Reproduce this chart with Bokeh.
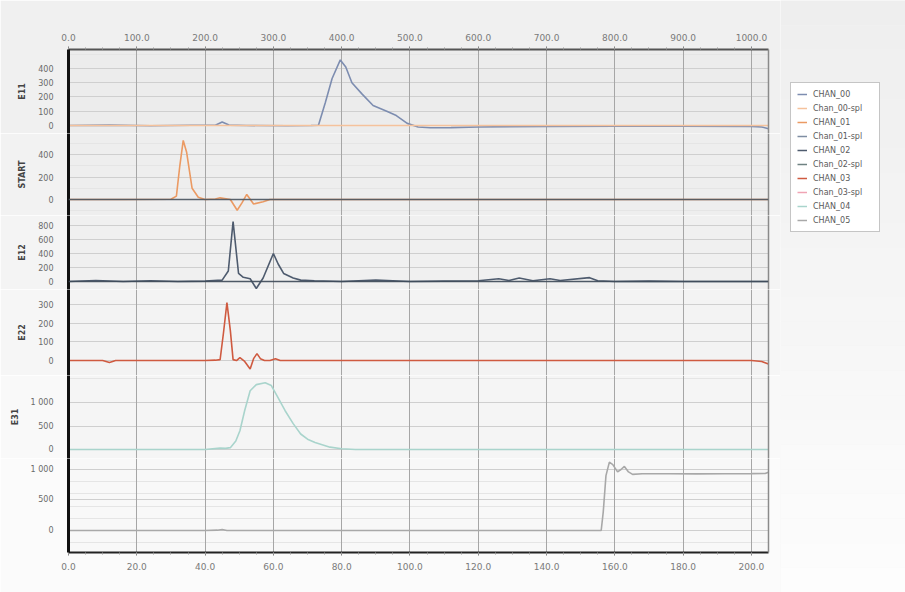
from bokeh.plotting import figure
from bokeh.layouts import column, row
from bokeh.models import (Range1d, LinearAxis, FixedTicker, Grid, Span, Legend,
                          LegendItem, PrintfTickFormatter)
from bokeh.embed import file_html
from bokeh.resources import INLINE

# ---- axes --------------------------------------------------------------
top_ticks = [0, 100, 200, 300, 400, 500, 600, 700, 800, 900, 1000]
bottom_ticks = [0, 20, 40, 60, 80, 100, 120, 140, 160, 180, 200]

# ---- channel data (x in the upper axis units) --------------------------
ch00_x = [0, 60, 120, 180, 215, 225, 235, 260, 320, 355, 366, 376, 386, 398, 406,
          415, 430, 446, 466, 480, 496, 512, 530, 560, 600, 700, 800, 900, 1000, 1015, 1025]
ch00_y = [0, 3, -2, 2, 2, 25, 3, 0, -2, 0, 2, 160, 330, 460, 410,
          300, 220, 140, 100, 70, 15, -10, -16, -15, -10, -6, -5, -5, -6, -10, -22]

ch00spl_x = [0, 200, 400, 600, 800, 1000, 1025]
ch00spl_y = [0, 0, 0, 0, 0, 0, 0]

ch01_x = [0, 80, 150, 158, 163, 168, 173, 181, 190, 200, 215, 222, 237, 247, 254,
          261, 271, 285, 295, 310, 400, 500, 600, 700, 800, 900, 1000, 1025]
ch01_y = [0, 0, 2, 30, 300, 525, 420, 100, 20, 0, 5, 15, 0, -95, -30,
          45, -40, -20, 0, 0, 0, 0, 0, 0, 0, 0, 0, 0]

ch02_x = [0, 40, 80, 120, 160, 200, 225, 234, 241, 249, 256, 266, 275, 285, 300,
          307, 315, 329, 340, 360, 400, 450, 500, 550, 600, 630, 645, 660, 680,
          705, 720, 763, 775, 800, 850, 900, 1000, 1025]
ch02_y = [0, 15, 0, 10, 0, 5, 20, 150, 855, 115, 60, 40, -100, 50, 400,
          250, 115, 50, 20, 10, 0, 20, 0, 5, 10, 40, 15, 50, 10,
          40, 15, 55, 10, 0, 5, 0, 0, 0]

ch03_x = [0, 50, 60, 69, 100, 150, 200, 215, 222, 227, 232, 237, 241, 246, 251,
          258, 266, 271, 276, 281, 287, 295, 303, 310, 350, 400, 500, 600, 700,
          800, 900, 1000, 1015, 1025]
ch03_y = [0, 0, -10, 0, 0, 0, 0, 2, 5, 150, 310, 160, 5, 0, 15,
          -5, -45, 10, 37, 10, 0, 0, 10, 0, 0, 0, 0, 0, 0,
          0, 0, 0, -5, -18]

ch04_x = [0, 100, 200, 222, 230, 237, 245, 251, 258, 266, 275, 288, 297, 305, 317,
          329, 340, 350, 361, 383, 400, 420, 500, 600, 700, 800, 900, 1000, 1025]
ch04_y = [0, 0, 0, 30, 25, 40, 180, 400, 830, 1250, 1380, 1420, 1360, 1150, 830,
          550, 330, 220, 150, 50, 15, 0, 0, 0, 0, 0, 0, 0, 0]

ch05_x = [0, 100, 200, 218, 225, 232, 300, 400, 500, 600, 700, 760, 780, 783, 787,
          792, 797, 804, 809, 814, 820, 826, 840, 880, 920, 960, 1000, 1020, 1025]
ch05_y = [0, 0, 0, 5, 15, 0, 0, 0, 0, 0, 0, 0, 0, 300, 900,
          1120, 1080, 960, 1000, 1050, 960, 920, 930, 930, 928, 930, 932, 935, 955]

legend_names = ["CHAN_00", "Chan_00-spl", "CHAN_01", "Chan_01-spl", "CHAN_02",
                "Chan_02-spl", "CHAN_03", "Chan_03-spl", "CHAN_04", "CHAN_05"]
legend_colors = ["#7d8db0", "#f5c29c", "#eb9a63", "#7f8ea3", "#4e5b6e",
                 "#6f8282", "#cf5a40", "#f0a4b4", "#a9d4cc", "#a8a8a8"]
color_of = dict(zip(legend_names, legend_colors))

FONT = "DejaVu Sans"
x_range = Range1d(0, 1025)

panels = [
    dict(label="E11", ylim=(-56, 533), ticks=[0, 100, 200, 300, 400], h=84,
         series=[("CHAN_00", ch00_x, ch00_y), ("Chan_00-spl", ch00spl_x, ch00spl_y)], zero=None),
    dict(label="START", ylim=(-142, 587), ticks=[0, 200, 400], h=82,
         series=[("CHAN_01", ch01_x, ch01_y)], zero="#4a5560"),
    dict(label="E12", ylim=(-114, 943), ticks=[0, 200, 400, 600, 800], h=74,
         series=[("CHAN_02", ch02_x, ch02_y)], zero="#3f4b5a"),
    dict(label="E22", ylim=(-80, 380), ticks=[0, 100, 200, 300], h=86,
         series=[("CHAN_03", ch03_x, ch03_y)], zero=None),
    dict(label="E31", ylim=(-191, 1574), ticks=[0, 500, 1000], h=83,
         series=[("CHAN_04", ch04_x, ch04_y)], zero=None),
    dict(label="", ylim=(-361, 1180), ticks=[0, 500, 1000], h=94,
         series=[("CHAN_05", ch05_x, ch05_y)], zero=None),
]


def shade(frac, lo, hi):
    v = int(round(lo + (hi - lo) * frac))
    return "#%02x%02x%02x" % (v, v, v)


figs = []
y_cursor = 0
for i, pan in enumerate(panels):
    first = i == 0
    last = i == len(panels) - 1
    top_b = 49 if first else 0
    bot_b = 40 if last else 0
    mid = (y_cursor + top_b + pan["h"] / 2) / 592.0
    y_cursor += top_b + pan["h"] + bot_b

    p = figure(x_range=x_range, y_range=Range1d(*pan["ylim"]),
               frame_width=700, frame_height=pan["h"],
               min_border_left=68, min_border_right=12,
               min_border_top=top_b, min_border_bottom=bot_b,
               x_axis_location=None, y_axis_location=None,
               toolbar_location=None, output_backend="svg",
               background_fill_color=shade(mid, 233, 250),
               border_fill_color=shade(mid, 238, 253),
               outline_line_color=None)

    yax = LinearAxis(ticker=FixedTicker(ticks=pan["ticks"]),
                     major_label_overrides={1000: "1 000"},
                     axis_label=pan["label"] or None,
                     axis_line_color="#111111", axis_line_width=3,
                     major_tick_line_color=None, minor_tick_line_color=None,
                     major_label_text_font=FONT, major_label_text_font_size="8px",
                     major_label_text_color="#6a6a6a", major_label_standoff=9,
                     axis_label_text_font=FONT, axis_label_text_font_size="8px",
                     axis_label_text_font_style="bold", axis_label_text_color="#444444",
                     axis_label_standoff=8)
    p.add_layout(yax, "left")

    rax = LinearAxis(ticker=FixedTicker(ticks=[]), axis_line_color="#8a8a8a",
                     axis_line_width=1.5, major_tick_line_color=None,
                     minor_tick_line_color=None, major_label_text_font_size="0px",
                     major_label_standoff=0)
    p.add_layout(rax, "right")

    p.add_layout(Grid(dimension=1, ticker=FixedTicker(ticks=pan["ticks"]),
                      grid_line_color="#cfcfcf", grid_line_width=1))
    p.add_layout(Grid(dimension=0, ticker=FixedTicker(ticks=top_ticks),
                      grid_line_color="#a6a6a6", grid_line_width=1))

    for name, xs, ys in pan["series"]:
        p.line(xs, ys, line_color=color_of[name], line_width=1.6)

    if pan["zero"]:
        p.add_layout(Span(location=0, dimension="width", line_color=pan["zero"],
                          line_width=1.5, line_alpha=0.9))

    if first:
        tax = LinearAxis(ticker=FixedTicker(ticks=top_ticks, minor_ticks=list(range(0, 1025, 25))),
                         formatter=PrintfTickFormatter(format="%.1f"),
                         axis_line_color="#555555", axis_line_width=2,
                         major_tick_line_color="#777777", major_tick_in=0, major_tick_out=3,
                         minor_tick_line_color="#999999", minor_tick_in=0, minor_tick_out=2,
                         major_label_text_font=FONT, major_label_text_font_size="9px",
                         major_label_text_color="#7a7a7a", major_label_standoff=6)
        p.add_layout(tax, "above")
    if last:
        p.extra_x_ranges = {"lower": Range1d(0, 205)}
        bax = LinearAxis(x_range_name="lower",
                         ticker=FixedTicker(ticks=bottom_ticks, minor_ticks=list(range(0, 205, 5))),
                         formatter=PrintfTickFormatter(format="%.1f"),
                         axis_line_color="#222222", axis_line_width=2,
                         major_tick_line_color="#777777", major_tick_in=0, major_tick_out=3,
                         minor_tick_line_color="#999999", minor_tick_in=0, minor_tick_out=2,
                         major_label_text_font=FONT, major_label_text_font_size="9px",
                         major_label_text_color="#7a7a7a", major_label_standoff=7)
        p.add_layout(bax, "below")
    figs.append(p)

# ---- legend panel -------------------------------------------------------
lf = figure(width=125, height=592, x_range=Range1d(0, 1), y_range=Range1d(0, 592),
            min_border=0, x_axis_location=None, y_axis_location=None,
            toolbar_location=None, output_backend="svg", outline_line_color=None,
            background_fill_color="#f3f3f3", border_fill_color="#f3f3f3")
lf.grid.visible = False

# vertical fade of the page background behind the legend
n_steps = 24
step = 592.0 / n_steps
band_bottom = [592 - (k + 1) * step for k in range(n_steps)]
band_top = [592 - k * step for k in range(n_steps)]
band_color = [shade((k + 0.5) / n_steps, 238, 253) for k in range(n_steps)]
lf.quad(left=0, right=1, bottom=band_bottom, top=band_top,
        fill_color=band_color, line_color=None)

items = []
for name, col in zip(legend_names, legend_colors):
    # off-screen stub so the legend has a glyph to draw for each channel
    r = lf.line(x=[2, 3], y=[-50, -50], line_color=col, line_width=1.5)
    items.append(LegendItem(label=name, renderers=[r]))
legend = Legend(items=items, location=(10, 360), orientation="vertical",
                background_fill_color="#ffffff", background_fill_alpha=1,
                border_line_color="#8c8c8c", border_line_width=1,
                label_text_font=FONT, label_text_font_size="8px", label_text_color="#5a5a5a",
                label_height=10, glyph_height=10, glyph_width=10, label_standoff=6,
                label_width=60, spacing=4, padding=6, margin=0)
lf.add_layout(legend)

layout = row(column(*figs, spacing=0), lf, spacing=0)

with open("out.html", "w") as f:
    f.write(file_html(layout, INLINE))
